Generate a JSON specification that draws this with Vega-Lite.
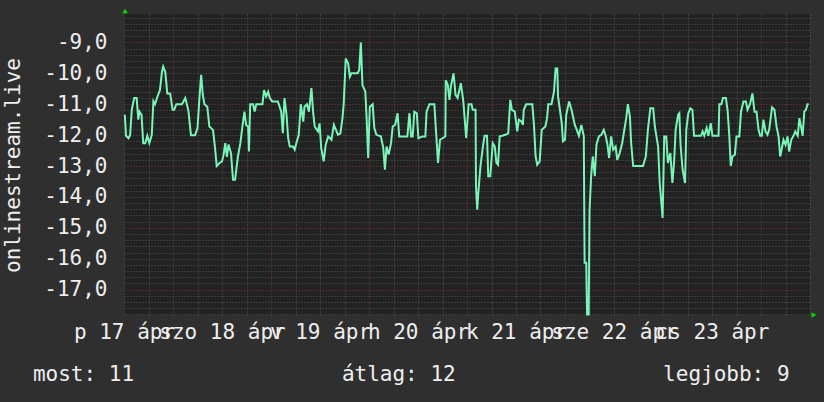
{
  "$schema": "https://vega.github.io/schema/vega-lite/v6.json",
  "width": 686,
  "height": 301,
  "autosize": "none",
  "padding": {"left": 124, "top": 14, "right": 14, "bottom": 87},
  "background": "#2f2f2f",
  "config": {
    "view": {"fill": "#222222", "stroke": null},
    "font": "DejaVu Sans Mono",
    "axis": {"labelFont": "DejaVu Sans Mono", "titleFont": "DejaVu Sans Mono", "labelColor": "#eeeeee", "titleColor": "#eeeeee"}
  },
  "datasets": {
    "rang": [
      {"ora":12.2,"ertek":-11.34},{"ora":12.5,"ertek":-12.02},{"ora":13.1,"ertek":-12.1},{"ora":13.5,"ertek":-12.0},{"ora":13.9,"ertek":-11.18},{"ora":14.5,"ertek":-10.8},{"ora":15.1,"ertek":-10.8},{"ora":15.5,"ertek":-11.5},{"ora":15.8,"ertek":-11.24},{"ora":16.3,"ertek":-11.34},{"ora":16.7,"ertek":-12.26},{"ora":17.2,"ertek":-12.26},{"ora":17.7,"ertek":-12.02},{"ora":18.2,"ertek":-12.26},{"ora":18.8,"ertek":-12.0},{"ora":19.2,"ertek":-10.9},{"ora":19.6,"ertek":-11.0},{"ora":20.2,"ertek":-10.75},{"ora":20.8,"ertek":-10.54},{"ora":21.3,"ertek":-9.95},{"ora":21.6,"ertek":-9.78},{"ora":22.1,"ertek":-9.95},{"ora":22.6,"ertek":-10.65},{"ora":23.3,"ertek":-10.65},{"ora":23.9,"ertek":-11.18},{"ora":24.3,"ertek":-11.18},{"ora":24.8,"ertek":-11.0},{"ora":26.2,"ertek":-11.0},{"ora":27.0,"ertek":-10.8},{"ora":27.4,"ertek":-11.0},{"ora":27.8,"ertek":-11.24},{"ora":28.4,"ertek":-12.0},{"ora":29.4,"ertek":-12.0},{"ora":30.0,"ertek":-11.77},{"ora":30.5,"ertek":-10.75},{"ora":30.9,"ertek":-10.05},{"ora":31.3,"ertek":-10.7},{"ora":31.7,"ertek":-11.0},{"ora":32.4,"ertek":-11.08},{"ora":32.9,"ertek":-11.72},{"ora":33.8,"ertek":-11.83},{"ora":34.3,"ertek":-12.42},{"ora":34.7,"ertek":-13.0},{"ora":35.4,"ertek":-12.9},{"ora":36.0,"ertek":-12.85},{"ora":36.4,"ertek":-12.63},{"ora":36.8,"ertek":-12.26},{"ora":37.2,"ertek":-12.7},{"ora":37.6,"ertek":-12.3},{"ora":38.2,"ertek":-12.58},{"ora":38.7,"ertek":-13.44},{"ora":39.2,"ertek":-13.44},{"ora":39.9,"ertek":-12.69},{"ora":40.5,"ertek":-12.26},{"ora":41.0,"ertek":-11.72},{"ora":41.5,"ertek":-11.24},{"ora":41.9,"ertek":-11.67},{"ora":42.4,"ertek":-11.72},{"ora":42.6,"ertek":-12.53},{"ora":42.9,"ertek":-11.0},{"ora":43.6,"ertek":-11.0},{"ora":44.0,"ertek":-11.24},{"ora":44.4,"ertek":-11.0},{"ora":45.9,"ertek":-11.0},{"ora":46.3,"ertek":-10.54},{"ora":46.8,"ertek":-10.75},{"ora":47.3,"ertek":-10.6},{"ora":47.7,"ertek":-10.8},{"ora":48.3,"ertek":-10.91},{"ora":49.7,"ertek":-10.91},{"ora":50.5,"ertek":-11.24},{"ora":50.9,"ertek":-11.94},{"ora":51.3,"ertek":-10.8},{"ora":51.8,"ertek":-11.34},{"ora":52.2,"ertek":-12.1},{"ora":52.6,"ertek":-12.37},{"ora":53.4,"ertek":-12.37},{"ora":53.8,"ertek":-12.47},{"ora":54.2,"ertek":-12.26},{"ora":54.8,"ertek":-11.99},{"ora":55.3,"ertek":-11.0},{"ora":55.9,"ertek":-11.56},{"ora":56.2,"ertek":-11.08},{"ora":56.8,"ertek":-11.0},{"ora":57.3,"ertek":-11.24},{"ora":57.9,"ertek":-10.48},{"ora":58.3,"ertek":-11.24},{"ora":58.7,"ertek":-11.72},{"ora":59.5,"ertek":-11.88},{"ora":59.9,"ertek":-11.62},{"ora":60.3,"ertek":-12.42},{"ora":60.9,"ertek":-12.85},{"ora":61.4,"ertek":-12.31},{"ora":62.0,"ertek":-12.04},{"ora":62.8,"ertek":-12.15},{"ora":63.4,"ertek":-11.67},{"ora":63.9,"ertek":-11.83},{"ora":64.4,"ertek":-11.99},{"ora":65.0,"ertek":-11.94},{"ora":65.5,"ertek":-11.45},{"ora":65.8,"ertek":-11.0},{"ora":66.3,"ertek":-9.52},{"ora":66.9,"ertek":-9.68},{"ora":67.3,"ertek":-10.11},{"ora":67.7,"ertek":-10.0},{"ora":69.2,"ertek":-10.0},{"ora":69.6,"ertek":-9.9},{"ora":70.0,"ertek":-9.0},{"ora":70.2,"ertek":-9.68},{"ora":70.4,"ertek":-10.38},{"ora":71.1,"ertek":-10.59},{"ora":71.4,"ertek":-11.4},{"ora":71.8,"ertek":-12.74},{"ora":72.2,"ertek":-11.08},{"ora":72.9,"ertek":-11.0},{"ora":73.3,"ertek":-11.77},{"ora":73.8,"ertek":-11.99},{"ora":74.9,"ertek":-12.04},{"ora":75.5,"ertek":-12.42},{"ora":75.9,"ertek":-13.12},{"ora":76.3,"ertek":-12.37},{"ora":76.8,"ertek":-12.63},{"ora":77.4,"ertek":-12.26},{"ora":77.8,"ertek":-11.72},{"ora":78.4,"ertek":-11.67},{"ora":79.0,"ertek":-11.29},{"ora":79.4,"ertek":-12.04},{"ora":81.4,"ertek":-12.04},{"ora":81.9,"ertek":-11.29},{"ora":82.3,"ertek":-12.04},{"ora":82.7,"ertek":-12.04},{"ora":83.1,"ertek":-11.24},{"ora":83.7,"ertek":-11.29},{"ora":84.1,"ertek":-12.1},{"ora":85.1,"ertek":-12.04},{"ora":85.8,"ertek":-12.04},{"ora":86.1,"ertek":-11.24},{"ora":86.8,"ertek":-11.0},{"ora":88.0,"ertek":-11.0},{"ora":88.6,"ertek":-12.26},{"ora":88.9,"ertek":-12.9},{"ora":89.4,"ertek":-12.15},{"ora":90.0,"ertek":-12.1},{"ora":90.7,"ertek":-12.04},{"ora":90.8,"ertek":-10.22},{"ora":91.3,"ertek":-10.38},{"ora":91.7,"ertek":-10.86},{"ora":92.1,"ertek":-10.38},{"ora":92.7,"ertek":-10.0},{"ora":93.2,"ertek":-10.7},{"ora":93.7,"ertek":-10.8},{"ora":94.5,"ertek":-10.32},{"ora":95.1,"ertek":-10.91},{"ora":95.8,"ertek":-12.1},{"ora":96.4,"ertek":-11.0},{"ora":97.1,"ertek":-11.0},{"ora":97.4,"ertek":-11.18},{"ora":98.1,"ertek":-11.18},{"ora":98.2,"ertek":-13.66},{"ora":98.5,"ertek":-14.41},{"ora":98.7,"ertek":-13.98},{"ora":99.3,"ertek":-13.0},{"ora":99.9,"ertek":-12.37},{"ora":100.3,"ertek":-12.02},{"ora":100.9,"ertek":-12.02},{"ora":101.2,"ertek":-13.33},{"ora":101.7,"ertek":-13.33},{"ora":102.3,"ertek":-12.26},{"ora":102.8,"ertek":-12.37},{"ora":103.2,"ertek":-12.9},{"ora":103.6,"ertek":-12.96},{"ora":104.0,"ertek":-12.04},{"ora":104.6,"ertek":-12.02},{"ora":105.4,"ertek":-11.99},{"ora":106.1,"ertek":-11.94},{"ora":106.6,"ertek":-10.86},{"ora":107.0,"ertek":-11.18},{"ora":107.7,"ertek":-11.24},{"ora":108.3,"ertek":-11.88},{"ora":108.7,"ertek":-11.5},{"ora":109.4,"ertek":-11.56},{"ora":109.7,"ertek":-11.67},{"ora":109.9,"ertek":-11.18},{"ora":110.5,"ertek":-11.0},{"ora":112.0,"ertek":-11.0},{"ora":112.4,"ertek":-11.67},{"ora":112.8,"ertek":-12.69},{"ora":113.2,"ertek":-12.96},{"ora":113.8,"ertek":-12.85},{"ora":114.3,"ertek":-11.83},{"ora":115.2,"ertek":-11.72},{"ora":115.6,"ertek":-11.45},{"ora":115.9,"ertek":-11.0},{"ora":116.7,"ertek":-11.0},{"ora":117.3,"ertek":-10.59},{"ora":117.7,"ertek":-9.84},{"ora":118.1,"ertek":-9.84},{"ora":118.3,"ertek":-10.75},{"ora":118.7,"ertek":-11.13},{"ora":119.2,"ertek":-11.61},{"ora":119.5,"ertek":-12.2},{"ora":120.0,"ertek":-12.15},{"ora":120.3,"ertek":-11.34},{"ora":121.0,"ertek":-10.91},{"ora":121.6,"ertek":-11.18},{"ora":122.4,"ertek":-11.67},{"ora":122.9,"ertek":-11.83},{"ora":123.4,"ertek":-12.02},{"ora":124.0,"ertek":-11.67},{"ora":124.6,"ertek":-12.02},{"ora":124.8,"ertek":-16.13},{"ora":125.2,"ertek":-16.13},{"ora":125.4,"ertek":-17.8},{"ora":125.8,"ertek":-17.8},{"ora":126.0,"ertek":-14.46},{"ora":126.4,"ertek":-13.33},{"ora":126.8,"ertek":-12.69},{"ora":127.3,"ertek":-13.33},{"ora":127.7,"ertek":-12.31},{"ora":128.3,"ertek":-12.04},{"ora":128.9,"ertek":-11.99},{"ora":129.5,"ertek":-11.83},{"ora":130.0,"ertek":-12.04},{"ora":130.4,"ertek":-12.31},{"ora":130.8,"ertek":-12.74},{"ora":131.3,"ertek":-12.04},{"ora":131.8,"ertek":-12.47},{"ora":132.4,"ertek":-12.37},{"ora":132.8,"ertek":-12.8},{"ora":133.4,"ertek":-12.58},{"ora":134.0,"ertek":-12.26},{"ora":134.6,"ertek":-11.77},{"ora":135.0,"ertek":-11.45},{"ora":135.4,"ertek":-11.0},{"ora":135.9,"ertek":-11.4},{"ora":136.2,"ertek":-12.26},{"ora":136.7,"ertek":-13.0},{"ora":139.1,"ertek":-13.0},{"ora":139.8,"ertek":-12.69},{"ora":140.3,"ertek":-11.83},{"ora":140.9,"ertek":-11.13},{"ora":141.6,"ertek":-11.13},{"ora":142.0,"ertek":-11.72},{"ora":142.8,"ertek":-12.37},{"ora":143.2,"ertek":-13.55},{"ora":143.9,"ertek":-14.68},{"ora":144.3,"ertek":-12.04},{"ora":144.8,"ertek":-12.04},{"ora":145.2,"ertek":-12.9},{"ora":145.8,"ertek":-12.58},{"ora":146.3,"ertek":-13.55},{"ora":146.7,"ertek":-12.9},{"ora":147.1,"ertek":-11.83},{"ora":147.7,"ertek":-11.34},{"ora":148.0,"ertek":-11.29},{"ora":148.3,"ertek":-12.31},{"ora":148.8,"ertek":-13.12},{"ora":149.4,"ertek":-13.55},{"ora":149.7,"ertek":-11.83},{"ora":150.2,"ertek":-11.29},{"ora":150.7,"ertek":-11.13},{"ora":151.2,"ertek":-11.18},{"ora":151.6,"ertek":-12.02},{"ora":153.3,"ertek":-12.02},{"ora":153.7,"ertek":-11.88},{"ora":154.1,"ertek":-12.02},{"ora":154.7,"ertek":-11.77},{"ora":155.1,"ertek":-12.02},{"ora":155.7,"ertek":-11.61},{"ora":156.1,"ertek":-12.02},{"ora":157.6,"ertek":-12.02},{"ora":157.8,"ertek":-11.0},{"ora":158.3,"ertek":-11.0},{"ora":158.7,"ertek":-10.8},{"ora":159.4,"ertek":-10.8},{"ora":159.8,"ertek":-11.18},{"ora":160.2,"ertek":-11.94},{"ora":160.6,"ertek":-13.0},{"ora":161.0,"ertek":-12.69},{"ora":161.6,"ertek":-12.63},{"ora":162.0,"ertek":-12.04},{"ora":162.7,"ertek":-12.04},{"ora":163.1,"ertek":-11.24},{"ora":163.7,"ertek":-10.91},{"ora":164.3,"ertek":-10.91},{"ora":164.7,"ertek":-11.18},{"ora":165.3,"ertek":-11.0},{"ora":165.9,"ertek":-10.65},{"ora":166.4,"ertek":-11.24},{"ora":166.9,"ertek":-11.24},{"ora":167.4,"ertek":-11.83},{"ora":167.8,"ertek":-12.02},{"ora":168.2,"ertek":-12.02},{"ora":168.6,"ertek":-11.5},{"ora":169.1,"ertek":-11.88},{"ora":169.6,"ertek":-11.99},{"ora":170.0,"ertek":-11.83},{"ora":170.7,"ertek":-11.1},{"ora":171.3,"ertek":-11.18},{"ora":171.8,"ertek":-11.72},{"ora":172.3,"ertek":-12.04},{"ora":172.7,"ertek":-12.69},{"ora":173.2,"ertek":-12.37},{"ora":173.5,"ertek":-12.15},{"ora":174.0,"ertek":-12.31},{"ora":174.5,"ertek":-12.04},{"ora":174.9,"ertek":-12.53},{"ora":175.4,"ertek":-12.15},{"ora":175.9,"ertek":-12.04},{"ora":176.4,"ertek":-11.88},{"ora":177.0,"ertek":-12.02},{"ora":177.4,"ertek":-11.45},{"ora":177.8,"ertek":-11.72},{"ora":178.2,"ertek":-12.02},{"ora":178.6,"ertek":-11.24},{"ora":179.0,"ertek":-11.18},{"ora":179.4,"ertek":-11.0},{"ora":179.7,"ertek":-11.0}
    ]
  },
  "layer": [
    {
      "data": {"name": "rang"},
      "mark": {"type": "line", "color": "#7af5b8", "strokeWidth": 2, "strokeJoin": "miter"},
      "encoding": {
        "x": {
          "field": "ora", "type": "quantitative",
          "scale": {"domain": [12, 180], "nice": false, "zero": false},
          "axis": {
            "title": null, "domain": false, "ticks": false, "tickCount": 1000,
            "values": [12,18,24,30,36,42,48,54,60,66,72,78,84,90,96,102,108,114,120,126,132,138,144,150,156,162,168,174,180],
            "labelExpr": "(datum.value - 12) % 24 == 0 && datum.value < 170 ? ['p 17 ápr','szo 18 ápr','v 19 ápr','h 20 ápr','k 21 ápr','sze 22 ápr','cs 23 ápr'][(datum.value - 12) / 24] : ''",
            "labelOverlap": false, "labelFlush": false, "labelBound": false,
            "labelFontSize": 21, "labelAlign": "center", "labelBaseline": "alphabetic", "labelPadding": 23,
            "grid": true, "gridDash": [1, 2], "gridWidth": 1,
            "gridColor": {"condition": {"test": "datum.value % 24 == 0", "value": "#7c3434"}, "value": "#575757"}
          }
        },
        "y": {
          "field": "ertek", "type": "quantitative",
          "scale": {"domain": [-17.82, -8.08], "nice": false, "zero": false},
          "axis": {
            "title": "onlinestream.live", "titleFontSize": 21, "titleFontWeight": "normal",
            "titleAngle": -90, "titleX": -105, "titleY": 151, "titleAlign": "center", "titleBaseline": "alphabetic",
            "domain": false, "ticks": false, "tickCount": 1000,
            "values": [-17.8,-17.6,-17.4,-17.2,-17,-16.8,-16.6,-16.4,-16.2,-16,-15.8,-15.6,-15.4,-15.2,-15,-14.8,-14.6,-14.4,-14.2,-14,-13.8,-13.6,-13.4,-13.2,-13,-12.8,-12.6,-12.4,-12.2,-12,-11.8,-11.6,-11.4,-11.2,-11,-10.8,-10.6,-10.4,-10.2,-10,-9.8,-9.6,-9.4,-9.2,-9,-8.8,-8.6,-8.4,-8.2],
            "labelExpr": "abs(datum.value - round(datum.value)) < 0.01 ? '-' + replace(format(abs(datum.value), '.1f'), '.', ',') : ''",
            "labelOverlap": false, "labelFontSize": 21, "labelPadding": 17, "labelBaseline": "middle",
            "grid": true, "gridDash": [1, 2], "gridWidth": 1,
            "gridColor": {"condition": {"test": "abs(datum.value - round(datum.value)) < 0.01 && abs(round(datum.value)) % 2 == 1", "value": "#7c3434"}, "value": "#575757"}
          }
        }
      }
    },
    {
      "data": {"values": [{"jel": "fel"}]},
      "mark": {"type": "point", "shape": "triangle-up", "filled": true, "color": "#00dd00", "size": 30, "opacity": 1, "yOffset": -3, "xOffset": 1},
      "encoding": {"x": {"datum": 12}, "y": {"datum": -8.08}}
    },
    {
      "data": {"values": [{"jel": "jobbra"}]},
      "mark": {"type": "point", "shape": "triangle-right", "filled": true, "color": "#00dd00", "size": 30, "opacity": 1, "xOffset": 4},
      "encoding": {"x": {"datum": 180}, "y": {"datum": -17.82}}
    },
    {
      "data": {"values": [{"felirat": "most: 11"}]},
      "mark": {"type": "text", "align": "left", "baseline": "alphabetic", "fontSize": 21, "font": "DejaVu Sans Mono", "color": "#eeeeee"},
      "encoding": {"x": {"datum": -10.3}, "y": {"datum": -19.956}, "text": {"field": "felirat"}}
    },
    {
      "data": {"values": [{"felirat": "átlag: 12"}]},
      "mark": {"type": "text", "align": "left", "baseline": "alphabetic", "fontSize": 21, "font": "DejaVu Sans Mono", "color": "#eeeeee"},
      "encoding": {"x": {"datum": 65.36}, "y": {"datum": -19.956}, "text": {"field": "felirat"}}
    },
    {
      "data": {"values": [{"felirat": "legjobb: 9"}]},
      "mark": {"type": "text", "align": "left", "baseline": "alphabetic", "fontSize": 21, "font": "DejaVu Sans Mono", "color": "#eeeeee"},
      "encoding": {"x": {"datum": 144.03}, "y": {"datum": -19.956}, "text": {"field": "felirat"}}
    }
  ]
}
